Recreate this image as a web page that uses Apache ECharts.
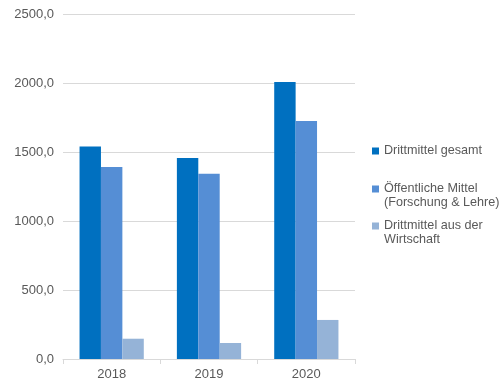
<!DOCTYPE html>
<html><head><meta charset="utf-8">
<script src="https://cdn.jsdelivr.net/npm/echarts@6/dist/echarts.min.js"></script>
<style>html,body{margin:0;padding:0;background:#fff}#c{width:504px;height:381px}</style>
</head><body><div id="c"></div>
<script>
var categories = ['2018', '2019', '2020'];
var seriesNames = ['Drittmittel gesamt', 'Öffentliche Mittel\n(Forschung & Lehre)', 'Drittmittel aus der\nWirtschaft'];
var gesamt = [1540, 1457, 2007];
var oeffentlich = [1391, 1343, 1724];
var wirtschaft = [147, 116, 283];
var colors = ['#0070c0', '#558ed5', '#95b3d7'];
var values = [gesamt, oeffentlich, wirtschaft];

var chart = echarts.init(document.getElementById('c'), null, {renderer: 'canvas'});
var font = 'Liberation Sans, Arial, sans-serif';
var legendText = {color: '#595959', fontSize: 12.6, fontFamily: font, lineHeight: 14};
var tallIcon = 'path://M0,0M0,28M0,3.5h7v7h-7z';
function mkLegend(i, top, tall) {
  return {
    orient: 'vertical', left: 372, top: top, padding: 0,
    itemWidth: 7, itemHeight: tall ? 28 : 7,
    icon: tall ? tallIcon : 'rect',
    textStyle: legendText,
    data: [seriesNames[i]]
  };
}
chart.setOption({
  animation: false,
  color: colors,
  textStyle: {fontFamily: font},
  grid: {left: 63, right: 149, top: 14, bottom: 22, containLabel: false},
  legend: [mkLegend(0, 144, false), mkLegend(1, 182, true), mkLegend(2, 219, true)],
  xAxis: {
    type: 'category', data: categories,
    axisLine: {lineStyle: {color: '#d9d9d9'}},
    axisTick: {show: true, length: 5, lineStyle: {color: '#d9d9d9'}},
    axisLabel: {color: '#595959', fontSize: 13, fontFamily: font, margin: 9}
  },
  yAxis: {
    type: 'value', min: 0, max: 2500, interval: 500,
    axisLine: {show: false}, axisTick: {show: false},
    splitLine: {lineStyle: {color: '#d9d9d9'}},
    axisLabel: {color: '#595959', fontSize: 13, fontFamily: font, margin: 9,
      formatter: function (v) { return v.toFixed(1).replace('.', ','); }}
  },
  series: seriesNames.map(function (n, i) {
    return {name: n, type: 'bar', data: values[i], barGap: '0%', barCategoryGap: '34%'};
  })
});
</script></body></html>
